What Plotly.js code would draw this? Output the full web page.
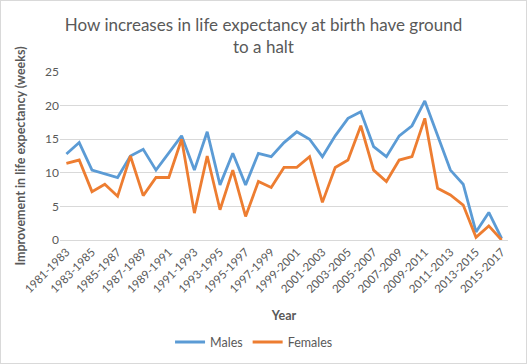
<!DOCTYPE html>
<html><head><meta charset="utf-8">
<script src="https://cdn.plot.ly/plotly-3.0.1.min.js"></script>
<style>html,body{margin:0;padding:0;background:#fff}#c{width:525px;height:362px;border:1px solid #d9d9d9}</style>
</head><body><div id="c"></div>
<script>
const periods = ["1981-1983","1982-1984","1983-1985","1984-1986","1985-1987","1986-1988","1987-1989","1988-1990","1989-1991","1990-1992","1991-1993","1992-1994","1993-1995","1994-1996","1995-1997","1996-1998","1997-1999","1998-2000","1999-2001","2000-2002","2001-2003","2002-2004","2003-2005","2004-2006","2005-2007","2006-2008","2007-2009","2008-2010","2009-2011","2010-2012","2011-2013","2012-2014","2013-2015","2014-2016","2015-2017"];
const males = [12.8,14.5,10.4,9.9,9.3,12.5,13.5,10.4,12.9,15.5,10.4,16.1,8.2,12.9,8.2,12.9,12.4,14.5,16.1,15.0,12.4,15.5,18.1,19.1,13.9,12.4,15.5,17.0,20.7,15.6,10.4,8.3,1.2,4.1,0.25];
const females = [11.4,11.9,7.2,8.3,6.5,12.5,6.6,9.3,9.3,15.0,4.0,12.5,4.5,10.4,3.5,8.7,7.8,10.8,10.8,12.4,5.6,10.8,11.9,17.0,10.4,8.7,11.9,12.4,18.1,7.7,6.7,5.2,0.4,2.1,0.0];
const tickLabels = periods.filter((p,i)=>i%2===0);
const font = "Lato, 'Open Sans', sans-serif";
const grey = "#595959";
Plotly.newPlot("c",[
 {x:periods,y:males,type:"scatter",mode:"lines",name:"Males",line:{color:"#5b9bd5",width:2.8}},
 {x:periods,y:females,type:"scatter",mode:"lines",name:"Females",line:{color:"#ed7d31",width:2.8}}
],{
 width:525,height:362,
 margin:{l:59,r:18,t:71,b:123},
 paper_bgcolor:"#fff",plot_bgcolor:"#fff",
 font:{family:font,color:grey,size:12},
 title:{text:"How increases in life expectancy at birth have ground<br>to a halt",font:{family:font,size:17,color:grey},x:0.5,xref:"container",xanchor:"center",y:0.917,yanchor:"middle",yref:"container",automargin:false},
 xaxis:{type:"category",tickvals:tickLabels,ticktext:tickLabels,tickangle:-45,showgrid:false,showline:true,linecolor:"#d9d9d9",linewidth:1,ticks:"",tickfont:{size:11.5,color:grey},automargin:false,
   title:{text:"<b>Year</b>",font:{size:12.5,color:grey},standoff:16},range:[-0.5,34.5]},
 yaxis:{range:[0,25],dtick:5,showgrid:true,gridcolor:"#d9d9d9",zeroline:false,showline:false,ticks:"",tickfont:{size:12,color:grey},automargin:false,
   title:{text:"<b>Improvement in life expectancy (weeks)</b>",font:{size:12.5,color:grey},standoff:16}},
 legend:{orientation:"h",x:0.482,xanchor:"center",xref:"container",y:0.057,yanchor:"middle",yref:"container",font:{size:12.5,color:grey}},
 showlegend:true
},{displayModeBar:false,staticPlot:true});
</script></body></html>
